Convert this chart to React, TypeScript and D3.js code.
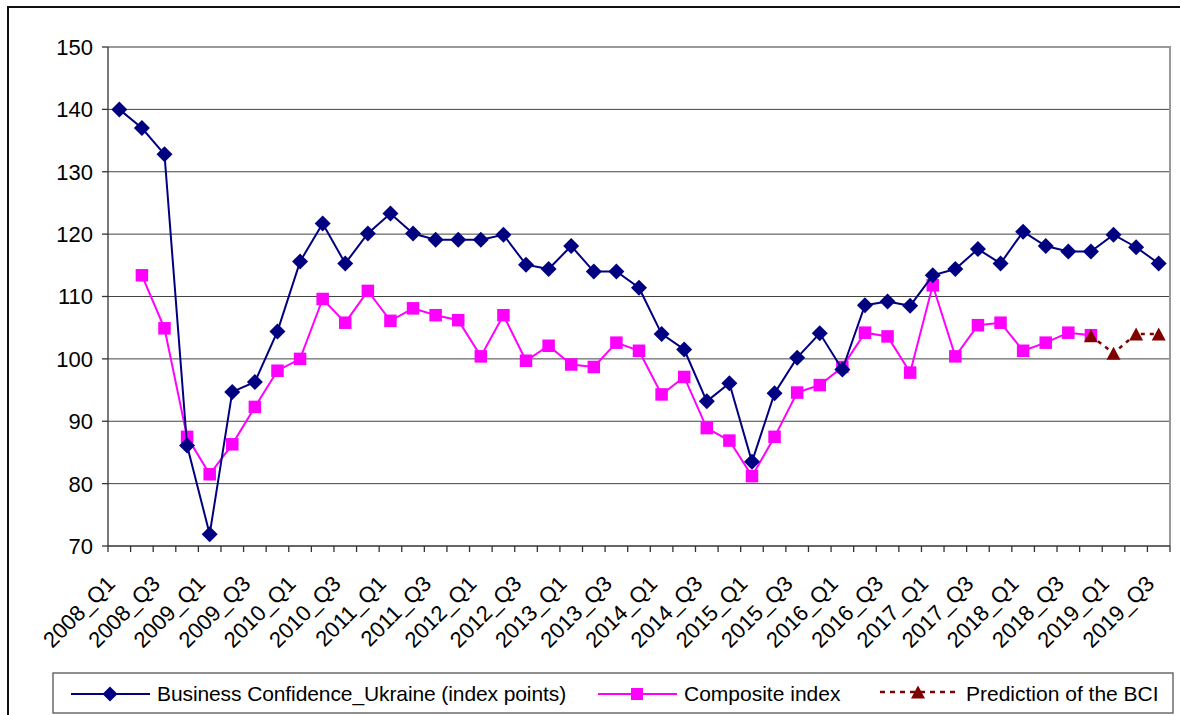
import React from "react";
import * as d3 from "d3";

const categories = [
  "2008_Q1","2008_Q2","2008_Q3","2008_Q4",
  "2009_Q1","2009_Q2","2009_Q3","2009_Q4",
  "2010_Q1","2010_Q2","2010_Q3","2010_Q4",
  "2011_Q1","2011_Q2","2011_Q3","2011_Q4",
  "2012_Q1","2012_Q2","2012_Q3","2012_Q4",
  "2013_Q1","2013_Q2","2013_Q3","2013_Q4",
  "2014_Q1","2014_Q2","2014_Q3","2014_Q4",
  "2015_Q1","2015_Q2","2015_Q3","2015_Q4",
  "2016_Q1","2016_Q2","2016_Q3","2016_Q4",
  "2017_Q1","2017_Q2","2017_Q3","2017_Q4",
  "2018_Q1","2018_Q2","2018_Q3","2018_Q4",
  "2019_Q1","2019_Q2","2019_Q3",
];

const bciValues = [
  140, 137, 132.8, 86.1, 71.9, 94.7, 96.3, 104.4, 115.6, 121.7, 115.3, 120.1,
  123.3, 120.1, 119.1, 119.1, 119.1, 119.9, 115.1, 114.4, 118.1, 114.0, 114.0, 111.4,
  104.0, 101.5, 93.2, 96.1, 83.5, 94.5, 100.2, 104.1, 98.3, 108.6, 109.2, 108.5,
  113.4, 114.4, 117.6, 115.3, 120.4, 118.1, 117.2, 117.2, 119.9, 117.9, 115.3,
];

const compositeValues: (number | null)[] = [
  null, 113.4, 104.9, 87.5, 81.5, 86.3, 92.3, 98.1, 100.0, 109.6, 105.8, 110.9,
  106.1, 108.1, 107.0, 106.2, 100.4, 107.0, 99.7, 102.1, 99.1, 98.7, 102.6, 101.3,
  94.3, 97.1, 88.9, 86.9, 81.2, 87.5, 94.6, 95.8, 98.7, 104.2, 103.6, 97.8,
  111.8, 100.4, 105.4, 105.8, 101.3, 102.6, 104.2, 103.8, null, null, null,
];

const predictionValues: (number | null)[] = [
  null, null, null, null, null, null, null, null, null, null, null, null,
  null, null, null, null, null, null, null, null, null, null, null, null,
  null, null, null, null, null, null, null, null, null, null, null, null,
  null, null, null, null, null, null, null, 103.7, 100.9, 104.0, 104.0,
];

const yTicks = [70, 80, 90, 100, 110, 120, 130, 140, 150];
const xTickLabels = categories.filter((_, i) => i % 2 === 0);

const seriesNames = [
  "Business Confidence_Ukraine (index points)",
  "Composite index",
  "Prediction of the BCI",
];

const NAVY = "#000080";
const MAGENTA = "#FF00FF";
const DARKRED = "#800000";
const FONT = "'Liberation Sans', Arial, sans-serif";

function Diamond({ x, y, r = 8 }: { x: number; y: number; r?: number }) {
  return <path d={`M${x},${y - r}L${x + r},${y}L${x},${y + r}L${x - r},${y}Z`} fill={NAVY} />;
}
function Square({ x, y, s = 12.5 }: { x: number; y: number; s?: number }) {
  return <rect x={x - s / 2} y={y - s / 2} width={s} height={s} fill={MAGENTA} />;
}
function Triangle({ x, y, w = 14, h = 13 }: { x: number; y: number; w?: number; h?: number }) {
  return <path d={`M${x},${y - h / 2}L${x + w / 2},${y + h / 2}L${x - w / 2},${y + h / 2}Z`} fill={DARKRED} />;
}

export default function App() {
  const W = 1180, H = 715;
  const left = 108, right = 1170, top = 47, bottom = 546;
  const x = d3.scaleBand<string>().domain(categories).range([left, right]).padding(0);
  const y = d3.scaleLinear().domain([70, 150]).range([bottom, top]);
  const cx = (c: string) => (x(c) as number) + x.bandwidth() / 2;

  const lineGen = d3
    .line<number | null>()
    .defined((d) => d !== null)
    .x((_, i) => cx(categories[i]))
    .y((d) => y(d as number));

  const bw = x.bandwidth();
  const boundaries = d3.range(categories.length + 1).map((k) => left + k * bw);

  return (
    <svg
      width={W}
      height={H}
      style={{ position: "absolute", left: 0, top: 0, background: "#fff" }}
      fontFamily={FONT}
    >
      <rect x={0} y={0} width={W} height={H} fill="#fff" />
      {/* outer frame */}
      <rect x={8} y={7} width={1300} height={900} fill="none" stroke="#111" strokeWidth={2} />

      {/* gridlines */}
      {yTicks.filter((t) => t > 70 && t < 150).map((t) => (
        <line key={t} x1={left} x2={right} y1={y(t)} y2={y(t)} stroke="#444" strokeWidth={1} />
      ))}
      {/* plot border top/right */}
      <path d={`M${left},${top}H${right}V${bottom}`} fill="none" stroke="#999" strokeWidth={2} />

      {/* axes */}
      <line x1={left} x2={left} y1={top} y2={bottom} stroke="#333" strokeWidth={1.3} />
      <line x1={left} x2={right} y1={bottom} y2={bottom} stroke="#333" strokeWidth={1.3} />
      {yTicks.map((t) => (
        <g key={t}>
          <line x1={left - 6} x2={left} y1={y(t)} y2={y(t)} stroke="#333" strokeWidth={1.3} />
          <text x={93} y={y(t)} dy="0.36em" textAnchor="end" fontSize={22} fill="#000">
            {t}
          </text>
        </g>
      ))}
      {boundaries.map((bx, k) => (
        <line key={k} x1={bx} x2={bx} y1={bottom} y2={bottom + 6} stroke="#333" strokeWidth={1.3} />
      ))}
      {xTickLabels.map((c) => (
        <text
          key={c}
          transform={`translate(${cx(c) - 3},${585}) rotate(-45)`}
          textAnchor="end"
          fontSize={22}
          fill="#000"
        >
          {c}
        </text>
      ))}

      {/* series */}
      <path d={lineGen(compositeValues) || ""} fill="none" stroke={MAGENTA} strokeWidth={2} />
      {compositeValues.map((v, i) =>
        v === null ? null : <Square key={i} x={cx(categories[i])} y={y(v)} />
      )}
      <path d={lineGen(bciValues) || ""} fill="none" stroke={NAVY} strokeWidth={2} />
      {bciValues.map((v, i) => (
        <Diamond key={i} x={cx(categories[i])} y={y(v)} />
      ))}
      <path
        d={lineGen(predictionValues) || ""}
        fill="none"
        stroke={DARKRED}
        strokeWidth={2.5}
        strokeDasharray="4,5"
      />
      {predictionValues.map((v, i) =>
        v === null ? null : <Triangle key={i} x={cx(categories[i])} y={y(v)} />
      )}

      {/* legend */}
      <rect x={53} y={673} width={1120} height={40} fill="#fff" stroke="#555" strokeWidth={1.3} />
      <line x1={71} x2={150} y1={694} y2={694} stroke={NAVY} strokeWidth={2} />
      <Diamond x={110} y={694} r={7.5} />
      <text x={157} y={701} fontSize={21} fill="#000" letterSpacing={-0.1}>{seriesNames[0]}</text>

      <line x1={598} x2={677} y1={694} y2={694} stroke={MAGENTA} strokeWidth={2} />
      <Square x={637} y={694} s={12} />
      <text x={684} y={701} fontSize={21} fill="#000">{seriesNames[1]}</text>

      <line x1={880} x2={958} y1={692} y2={692} stroke={DARKRED} strokeWidth={2.5} strokeDasharray="5,5" />
      <Triangle x={918} y={692} />
      <text x={966} y={701} fontSize={21} fill="#000">{seriesNames[2]}</text>
    </svg>
  );
}
